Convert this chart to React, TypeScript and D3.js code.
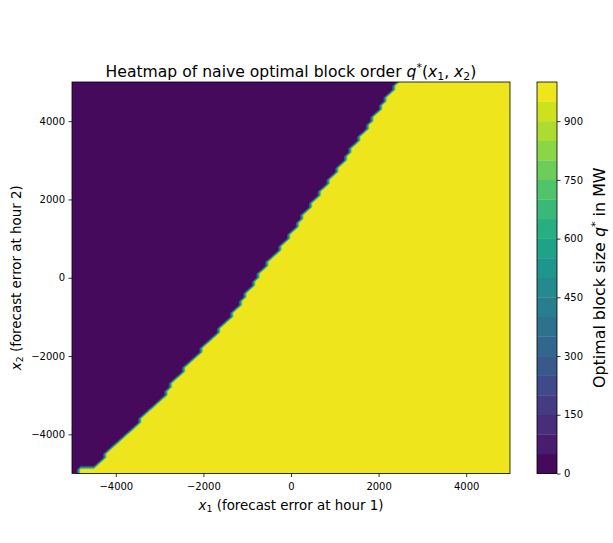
import React, { useEffect, useRef } from "react";
import * as d3 from "d3";

// grid of forecast errors (MW)
const X1_GRID = d3.range(-5000, 5001, 100);
const X2_GRID = d3.range(-5000, 5001, 100);

// switching boundary: for each x2, the x1 where q* jumps 0 -> 1000
const BOUNDARY_X2 = [-5000, -4900, -4800, -4676, -4252, -3827, -3400, -2977, -2602, -2176, -1753, -1327, -900, -477, -51, 375, 798, 1224, 1650, 2074, 2500, 2926, 3350, 3775, 4201, 4625, 4982, 5000];
const BOUNDARY_X1 = [-4900, -4850, -4500, -4366, -3984, -3611, -3223, -2880, -2640, -2309, -1966, -1623, -1303, -1051, -800, -526, -213, 69, 320, 587, 869, 1159, 1417, 1691, 1943, 2194, 2446, 2460];

const Q_LOW = 0;
const Q_HIGH = 1000;

const LEVELS = [0, 50, 100, 150, 200, 250, 300, 350, 400, 450, 500, 550, 600, 650, 700, 750, 800, 850, 900, 950, 1000];
const X_TICKS = [-4000, -2000, 0, 2000, 4000];
const Y_TICKS = [-4000, -2000, 0, 2000, 4000];
const CBAR_TICKS = [0, 150, 300, 450, 600, 750, 900];

const FONT = "DejaVu Sans";

export default function App() {
  const ref = useRef<SVGSVGElement | null>(null);

  useEffect(() => {
    const svg = d3.select(ref.current!);
    svg.selectAll("*").remove();

    const L = 72, R = 510, T = 82, B = 473.5;
    const CL = 537, CR = 557;

    const x = d3.scaleLinear().domain([-5000, 5000]).range([L, R]);
    const y = d3.scaleLinear().domain([-5000, 5000]).range([B, T]);
    const nb = LEVELS.length - 1;
    const lmin = LEVELS[0], lmax = LEVELS[LEVELS.length - 1];
    // colour of band k: viridis at the band midpoint, normalised over the level range
    const color = (k: number) => d3.interpolateViridis(((LEVELS[k] + LEVELS[k + 1]) / 2 - lmin) / (lmax - lmin));

    const boundary = d3.scaleLinear().domain(BOUNDARY_X2).range(BOUNDARY_X1);
    const nx = X1_GRID.length, ny = X2_GRID.length;
    const values: number[] = new Array(nx * ny);
    for (let j = 0; j < ny; j++) {
      const b = boundary(X2_GRID[j]);
      for (let i = 0; i < nx; i++) values[j * nx + i] = X1_GRID[i] > b ? Q_HIGH : Q_LOW;
    }
    const contours = d3.contours().size([nx, ny]).thresholds(LEVELS.slice(1, -1))(values);
    const sx = (X1_GRID[nx - 1] - X1_GRID[0]) / (nx - 1);
    const sy = (X2_GRID[ny - 1] - X2_GRID[0]) / (ny - 1);
    const proj = d3.geoTransform({
      point(px: number, py: number) {
        // @ts-ignore
        this.stream.point(x(X1_GRID[0] + sx * (px - 0.5)), y(X2_GRID[0] + sy * (py - 0.5)));
      },
    });
    const path = d3.geoPath(proj as any);

    svg.append("defs").append("clipPath").attr("id", "plotclip")
      .append("rect").attr("x", L).attr("y", T).attr("width", R - L).attr("height", B - T);

    const g = svg.append("g").attr("clip-path", "url(#plotclip)");
    g.append("rect").attr("x", L).attr("y", T).attr("width", R - L).attr("height", B - T).attr("fill", color(0));
    g.selectAll("path.band").data(contours).join("path")
      .attr("class", "band")
      .attr("d", (d: any) => path(d) as string)
      .attr("fill", (d: any) => color(LEVELS.indexOf(d.value)));

    svg.append("rect").attr("x", L).attr("y", T).attr("width", R - L).attr("height", B - T)
      .attr("fill", "none").attr("stroke", "#000").attr("stroke-width", 0.8);

    const styleAxis = (ax: any) => {
      ax.select(".domain").remove();
      ax.attr("font-family", FONT).attr("font-size", 10);
      ax.selectAll("line").attr("stroke", "#000").attr("stroke-width", 0.8);
      ax.selectAll("text").attr("fill", "#000");
    };

    const xAx = svg.append("g").attr("transform", `translate(0,${B})`)
      .call(d3.axisBottom(x).tickValues(X_TICKS).tickSize(3.5).tickPadding(5.7).tickFormat(d3.format("d") as any));
    styleAxis(xAx);
    const yAx = svg.append("g").attr("transform", `translate(${L},0)`)
      .call(d3.axisLeft(y).tickValues(Y_TICKS).tickSize(3.5).tickPadding(3.5).tickFormat(d3.format("d") as any));
    styleAxis(yAx);

    // colorbar
    const cb = d3.scaleLinear().domain([lmin, lmax]).range([B, T]);
    svg.append("g").selectAll("rect").data(d3.range(nb)).join("rect")
      .attr("x", CL).attr("width", CR - CL)
      .attr("y", (k) => cb(LEVELS[k + 1]))
      .attr("height", (k) => cb(LEVELS[k]) - cb(LEVELS[k + 1]) + 0.3)
      .attr("fill", (k) => color(k));
    svg.append("rect").attr("x", CL).attr("y", T).attr("width", CR - CL).attr("height", B - T)
      .attr("fill", "none").attr("stroke", "#000").attr("stroke-width", 0.8);
    const cAx = svg.append("g").attr("transform", `translate(${CR},0)`)
      .call(d3.axisRight(cb).tickValues(CBAR_TICKS).tickSize(3.5).tickPadding(3.5).tickFormat(d3.format("d") as any));
    styleAxis(cAx);

    // title
    const TS = 15.6, TSS = TS * 0.7;
    const title = svg.append("text").attr("x", (L + R) / 2).attr("y", 76.5)
      .attr("text-anchor", "middle").attr("font-family", FONT).attr("font-size", TS).attr("fill", "#000");
    title.append("tspan").text("Heatmap of naive optimal block order ");
    title.append("tspan").attr("font-style", "italic").text("q");
    title.append("tspan").attr("font-size", TSS).attr("dy", -5.5).text("*");
    title.append("tspan").attr("dy", 5.5).text("(");
    title.append("tspan").attr("font-style", "italic").text("x");
    title.append("tspan").attr("font-size", TSS).attr("dy", 3.2).text("1");
    title.append("tspan").attr("dy", -3.2).text(", ");
    title.append("tspan").attr("font-style", "italic").text("x");
    title.append("tspan").attr("font-size", TSS).attr("dy", 3.2).text("2");
    title.append("tspan").attr("dy", -3.2).text(")");

    // x label
    const LS = 13.4, LSS = LS * 0.7;
    const xl = svg.append("text").attr("x", (L + R) / 2).attr("y", 509.5)
      .attr("text-anchor", "middle").attr("font-family", FONT).attr("font-size", LS).attr("fill", "#000");
    xl.append("tspan").attr("font-style", "italic").text("x");
    xl.append("tspan").attr("font-size", LSS).attr("dy", 2.9).text("1");
    xl.append("tspan").attr("dy", -2.9).text(" (forecast error at hour 1)");

    // y label
    const yl = svg.append("text").attr("transform", `translate(20.5,${(T + B) / 2}) rotate(-90)`)
      .attr("text-anchor", "middle").attr("font-family", FONT).attr("font-size", LS).attr("fill", "#000");
    yl.append("tspan").attr("font-style", "italic").text("x");
    yl.append("tspan").attr("font-size", LSS).attr("dy", 2.9).text("2");
    yl.append("tspan").attr("dy", -2.9).text(" (forecast error at hour 2)");

    // colorbar label
    const CS = 15.9, CSS = CS * 0.7;
    const cl = svg.append("text").attr("transform", `translate(605,${(T + B) / 2}) rotate(-90)`)
      .attr("text-anchor", "middle").attr("font-family", FONT).attr("font-size", CS).attr("fill", "#000");
    cl.append("tspan").text("Optimal block size ");
    cl.append("tspan").attr("font-style", "italic").text("q");
    cl.append("tspan").attr("font-size", CSS).attr("dy", -5.6).text("*");
    cl.append("tspan").attr("dy", 5.6).text(" in MW");
  }, []);

  return (
    <svg
      ref={ref}
      width={613}
      height={543}
      style={{ position: "absolute", left: 0, top: 0, background: "#fff" }}
    />
  );
}
